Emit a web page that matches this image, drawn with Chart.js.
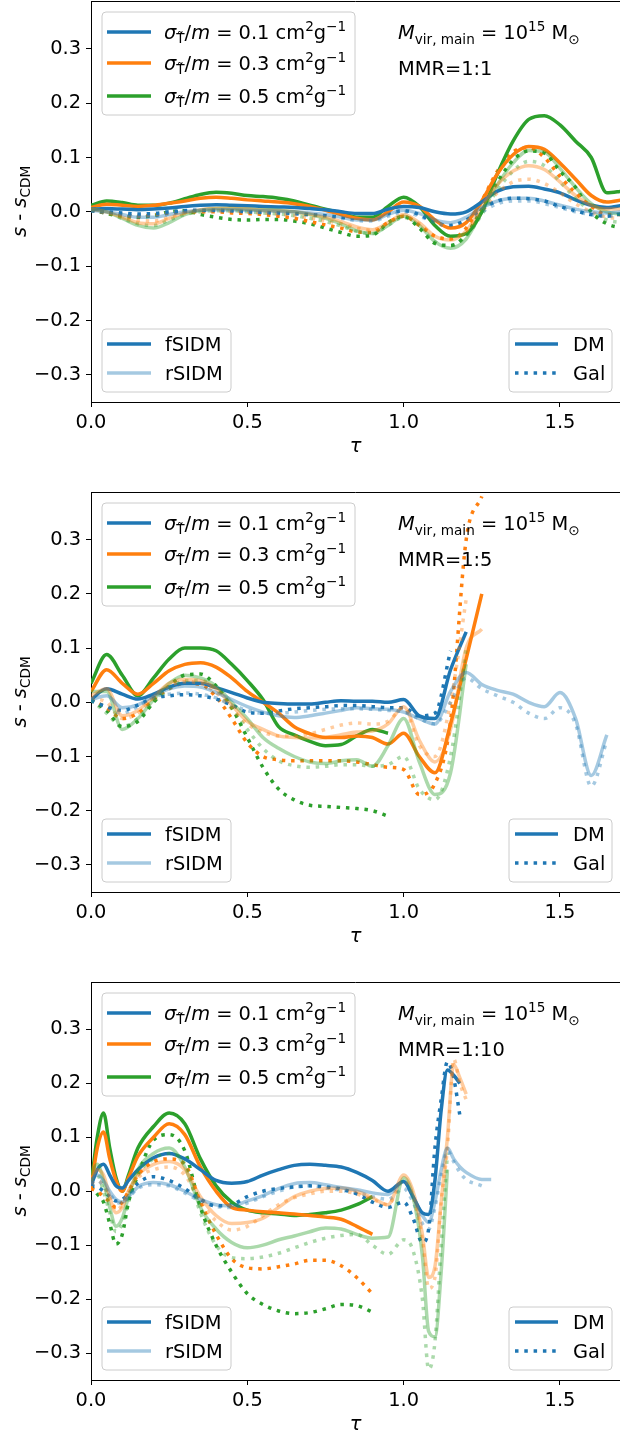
<!DOCTYPE html>
<html>
<head>
<meta charset="utf-8">
<script src="https://cdn.jsdelivr.net/npm/chart.js@4/dist/chart.umd.min.js"></script>
<style>
body{margin:0;background:#fff;width:620px;height:1439px;overflow:hidden;position:relative}
canvas{position:absolute;left:0}
</style>
</head>
<body>
<canvas id="c1" width="620" height="490" style="top:0"></canvas>
<canvas id="c2" width="620" height="490" style="top:490px"></canvas>
<canvas id="c3" width="620" height="459" style="top:980px"></canvas>
<script>
/* DATA */

const xTicks=[0,0.5,1.0,1.5];
const yTicks=[-0.3,-0.2,-0.1,0,0.1,0.2,0.3];
const crossLabels=["0.1","0.3","0.5"];
const mmrLabels=["1:1","1:5","1:10"];

// panel 1 (MMR 1:1)
const tau1=[0,0.05,0.1,0.15,0.2,0.25,0.3,0.35,0.4,0.45,0.5,0.55,0.6,0.65,0.7,0.75,0.8,0.85,0.9,0.95,1.0,1.05,1.1,1.15,1.2,1.25,1.3,1.35,1.4,1.45,1.5,1.55,1.6,1.65,1.7];
const p1_fDM_01=[0.005,0.006,0.005,0.004,0.005,0.007,0.01,0.012,0.013,0.012,0.011,0.01,0.009,0.008,0.006,0.004,0.0,-0.003,-0.003,0.005,0.01,0.008,0.0,-0.004,0.0,0.018,0.038,0.046,0.047,0.042,0.035,0.022,0.012,0.008,0.012];
const p1_fDM_03=[0.008,0.014,0.012,0.01,0.012,0.016,0.02,0.025,0.027,0.025,0.022,0.02,0.018,0.015,0.01,0.003,-0.005,-0.012,-0.015,0.0,0.018,0.01,-0.015,-0.03,-0.02,0.02,0.07,0.105,0.12,0.115,0.09,0.06,0.03,0.018,0.022];
const p1_fDM_05=[0.012,0.02,0.017,0.012,0.012,0.016,0.024,0.032,0.036,0.034,0.03,0.028,0.025,0.02,0.012,0.005,-0.002,-0.01,-0.01,0.01,0.027,0.01,-0.025,-0.045,-0.04,0.0,0.07,0.13,0.17,0.177,0.16,0.13,0.1,0.035,0.038];
const p1_fGal_01=[0.002,0.0,-0.002,-0.004,-0.003,0.0,0.002,0.003,0.003,0.002,0.0,-0.001,-0.002,-0.003,-0.005,-0.007,-0.01,-0.012,-0.012,-0.003,0.002,-0.005,-0.02,-0.025,-0.015,0.005,0.02,0.025,0.024,0.02,0.01,0.002,-0.005,-0.008,-0.003];
const p1_fGal_03=[0.003,-0.002,-0.005,-0.008,-0.006,-0.002,0.0,0.0,0.0,-0.002,-0.003,-0.005,-0.008,-0.012,-0.018,-0.024,-0.03,-0.037,-0.038,-0.02,-0.008,-0.025,-0.045,-0.05,-0.03,0.02,0.075,0.11,0.118,0.1,0.065,0.035,0.01,-0.005,-0.005];
const p1_fGal_05=[0.005,-0.003,-0.008,-0.01,-0.007,0.0,0.002,-0.005,-0.01,-0.014,-0.015,-0.014,-0.014,-0.017,-0.022,-0.03,-0.038,-0.045,-0.043,-0.02,-0.008,-0.03,-0.058,-0.062,-0.042,0.005,0.055,0.095,0.112,0.108,0.075,0.045,0.0,-0.022,-0.03];
const p1_rDM_01=[0.003,0.0,-0.005,-0.01,-0.01,-0.005,0.0,0.003,0.004,0.004,0.003,0.002,0.001,0.0,-0.002,-0.005,-0.01,-0.015,-0.015,-0.005,0.003,-0.003,-0.015,-0.02,-0.01,0.008,0.02,0.025,0.025,0.02,0.012,0.005,0.0,-0.002,0.0];
const p1_rDM_03=[0.005,0.0,-0.01,-0.02,-0.022,-0.012,-0.002,0.004,0.006,0.006,0.005,0.003,0.002,0.0,-0.004,-0.01,-0.018,-0.028,-0.033,-0.02,-0.005,-0.02,-0.045,-0.052,-0.035,0.01,0.05,0.075,0.085,0.078,0.055,0.03,0.012,0.005,0.005];
const p1_rDM_05=[0.005,0.0,-0.012,-0.025,-0.03,-0.02,-0.005,0.003,0.006,0.006,0.005,0.004,0.003,0.0,-0.005,-0.012,-0.022,-0.035,-0.04,-0.025,-0.008,-0.025,-0.055,-0.067,-0.05,0.0,0.05,0.09,0.113,0.11,0.08,0.045,0.015,0.0,-0.005];
const p1_rGal_01=[0.002,-0.002,-0.005,-0.008,-0.008,-0.004,0.0,0.002,0.002,0.001,0.0,-0.002,-0.003,-0.004,-0.006,-0.008,-0.012,-0.016,-0.017,-0.008,0.0,-0.008,-0.02,-0.025,-0.015,0.0,0.015,0.02,0.02,0.015,0.008,0.0,-0.005,-0.008,-0.005];
const p1_rGal_03=[0.003,-0.002,-0.008,-0.015,-0.017,-0.01,-0.003,0.0,0.002,0.001,0.0,-0.002,-0.004,-0.007,-0.011,-0.016,-0.022,-0.03,-0.034,-0.02,-0.008,-0.022,-0.045,-0.05,-0.035,0.0,0.035,0.055,0.06,0.052,0.035,0.015,0.0,-0.01,-0.012];
const p1_rGal_05=[0.003,-0.003,-0.012,-0.022,-0.025,-0.015,-0.005,0.0,0.002,0.002,0.0,-0.002,-0.004,-0.007,-0.012,-0.018,-0.026,-0.036,-0.04,-0.025,-0.01,-0.028,-0.055,-0.062,-0.045,-0.005,0.04,0.075,0.093,0.085,0.055,0.025,0.0,-0.015,-0.02];

// panel 2 (MMR 1:5)
const tau2=[0,0.05,0.1,0.15,0.2,0.25,0.3,0.35,0.4,0.45,0.5,0.55,0.6,0.65,0.7,0.75,0.8,0.85,0.9,0.95,1.0,1.05,1.1,1.15,1.2,1.25,1.3,1.35,1.4,1.45,1.5,1.55,1.6,1.65];
const p2_fDM_01=[0.005,0.025,0.015,0.006,0.015,0.028,0.035,0.035,0.027,0.018,0.008,0.0,-0.002,-0.003,-0.003,0.0,0.003,0.002,0.002,0.0,0.005,-0.025,-0.03,0.06,0.13];
const p2_fDM_03=[0.02,0.06,0.035,0.015,0.035,0.058,0.07,0.073,0.065,0.045,0.02,0.0,-0.02,-0.045,-0.058,-0.065,-0.065,-0.062,-0.065,-0.077,-0.057,-0.1,-0.13,-0.04,0.08,0.2];
const p2_fDM_05=[0.035,0.088,0.05,0.012,0.045,0.08,0.1,0.1,0.095,0.07,0.04,0.005,-0.045,-0.06,-0.072,-0.08,-0.078,-0.062,-0.05,-0.057];
const p2_fGal_01=[0.003,-0.008,-0.015,-0.005,0.008,0.012,0.014,0.012,0.006,-0.005,-0.018,-0.02,-0.016,-0.012,-0.01,-0.008,-0.006,-0.006,-0.008,-0.01,-0.01,-0.025,-0.02,0.095];
const p2_fGal_03=[0.005,-0.01,-0.03,-0.02,0.005,0.025,0.035,0.033,0.01,-0.03,-0.075,-0.1,-0.106,-0.108,-0.108,-0.108,-0.108,-0.11,-0.115,-0.12,-0.124,-0.17,-0.15,-0.035,0.3,0.38];
const p2_fGal_05=[0.004,-0.015,-0.045,-0.035,0.0,0.03,0.05,0.052,0.03,-0.01,-0.065,-0.12,-0.16,-0.18,-0.19,-0.192,-0.194,-0.196,-0.2,-0.21];
const p2_rDM_01=[0.005,0.012,-0.01,-0.005,0.012,0.025,0.03,0.028,0.018,0.005,-0.008,-0.018,-0.025,-0.028,-0.025,-0.02,-0.015,-0.01,-0.012,-0.013,-0.018,-0.03,-0.04,0.02,0.055,0.033,0.022,0.015,0.0,-0.008,0.018,-0.03,-0.135,-0.06];
const p2_rDM_03=[0.012,0.025,-0.025,-0.015,0.01,0.035,0.042,0.04,0.025,-0.005,-0.035,-0.05,-0.062,-0.065,-0.066,-0.065,-0.06,-0.055,-0.053,-0.04,-0.008,-0.07,-0.11,-0.05,0.1,0.135];
const p2_rDM_05=[0.02,0.02,-0.05,-0.03,0.005,0.035,0.05,0.045,0.03,0.0,-0.03,-0.065,-0.085,-0.1,-0.11,-0.113,-0.108,-0.106,-0.118,-0.08,-0.03,-0.11,-0.17,-0.13,0.07];
const p2_rGal_01=[0.003,-0.01,-0.02,-0.008,0.01,0.015,0.017,0.015,0.008,-0.005,-0.015,-0.02,-0.02,-0.018,-0.015,-0.013,-0.012,-0.012,-0.013,-0.015,-0.018,-0.03,-0.04,0.0,0.045,0.025,0.012,0.0,-0.02,-0.03,-0.01,-0.04,-0.155,-0.07];
const p2_rGal_03=[0.008,0.0,-0.03,-0.02,0.008,0.03,0.038,0.035,0.018,-0.012,-0.04,-0.055,-0.062,-0.062,-0.058,-0.05,-0.042,-0.038,-0.04,-0.035,-0.01,-0.08,-0.1,0.0,0.19];
const p2_rGal_05=[0.005,-0.02,-0.045,-0.03,0.0,0.025,0.04,0.04,0.025,-0.01,-0.05,-0.085,-0.108,-0.117,-0.12,-0.118,-0.115,-0.115,-0.118,-0.115,-0.1,-0.16,-0.18,-0.1,0.1];

// panel 3 (MMR 1:10)
const tau3=[0,0.02,0.04,0.06,0.08,0.1,0.12,0.15,0.2,0.25,0.3,0.35,0.4,0.45,0.5,0.55,0.6,0.65,0.7,0.75,0.8,0.85,0.9,0.95,1.0,1.03,1.06,1.08,1.1,1.12,1.14,1.16,1.18,1.2,1.25,1.28];
const p3_fDM_01=[0.01,0.04,0.05,0.03,0.01,0.006,0.02,0.04,0.062,0.07,0.06,0.04,0.02,0.015,0.018,0.03,0.04,0.048,0.05,0.048,0.045,0.035,0.02,0.0,0.018,-0.01,-0.04,-0.043,0.02,0.15,0.225,0.215,0.2];
const p3_fDM_03=[0.005,0.08,0.11,0.06,0.02,0.0,0.025,0.065,0.1,0.125,0.105,0.045,0.0,-0.03,-0.035,-0.038,-0.04,-0.042,-0.045,-0.048,-0.052,-0.065,-0.08];
const p3_fDM_05=[0.01,0.1,0.145,0.08,0.025,0.0,0.03,0.08,0.12,0.145,0.125,0.06,0.01,-0.02,-0.035,-0.04,-0.042,-0.045,-0.043,-0.04,-0.035,-0.025,-0.01];
const p3_fGal_01=[0.01,0.008,0.0,-0.01,-0.018,-0.015,-0.005,0.015,0.027,0.02,0.005,-0.015,-0.027,-0.025,-0.01,0.0,0.005,0.008,0.01,0.008,0.004,-0.005,-0.02,-0.03,-0.02,-0.05,-0.095,-0.07,0.08,0.17,0.24,0.21,0.14];
const p3_fGal_03=[0.005,0.0,-0.01,-0.02,-0.03,-0.02,0.0,0.03,0.055,0.06,0.05,-0.02,-0.08,-0.125,-0.142,-0.144,-0.14,-0.135,-0.128,-0.128,-0.138,-0.16,-0.19];
const p3_fGal_05=[0.01,-0.005,-0.02,-0.06,-0.098,-0.08,-0.02,0.03,0.095,0.105,0.075,-0.03,-0.1,-0.15,-0.19,-0.21,-0.222,-0.227,-0.225,-0.218,-0.21,-0.212,-0.224];
const p3_rDM_01=[0.02,0.03,0.02,0.0,-0.015,-0.02,-0.01,0.008,0.016,0.012,0.0,-0.015,-0.025,-0.027,-0.018,-0.008,0.005,0.014,0.016,0.012,0.007,0.003,-0.003,-0.006,0.018,-0.01,-0.045,-0.058,-0.02,0.04,0.08,0.06,0.045,0.035,0.022,0.022];
const p3_rDM_03=[0.02,0.04,0.03,-0.01,-0.04,-0.03,0.0,0.03,0.05,0.055,0.04,-0.01,-0.045,-0.06,-0.058,-0.05,-0.03,-0.01,0.0,0.005,0.006,0.0,-0.012,-0.025,0.03,0.0,-0.08,-0.16,-0.14,-0.02,0.1,0.235,0.21,0.18];
const p3_rDM_05=[0.03,0.05,0.02,-0.03,-0.065,-0.05,-0.01,0.04,0.07,0.08,0.045,-0.03,-0.07,-0.095,-0.105,-0.1,-0.09,-0.083,-0.075,-0.068,-0.07,-0.08,-0.087,-0.085,0.025,-0.01,-0.12,-0.26,-0.27,-0.15,0.04];
const p3_rGal_01=[0.015,0.02,0.01,-0.005,-0.02,-0.022,-0.012,0.005,0.012,0.01,-0.003,-0.018,-0.028,-0.03,-0.022,-0.01,0.0,0.008,0.01,0.006,0.002,-0.003,-0.01,-0.015,0.005,-0.02,-0.06,-0.07,-0.03,0.03,0.075,0.055,0.035,0.022,0.01];
const p3_rGal_03=[0.015,0.02,0.01,-0.015,-0.035,-0.025,0.0,0.025,0.04,0.045,0.03,-0.02,-0.055,-0.072,-0.065,-0.045,-0.025,-0.012,-0.005,0.0,0.0,-0.005,-0.015,-0.025,0.02,-0.01,-0.09,-0.18,-0.16,-0.02,0.08,0.245,0.2,0.17];
const p3_rGal_05=[0.02,0.03,0.0,-0.04,-0.075,-0.06,-0.02,0.03,0.06,0.07,0.05,-0.04,-0.1,-0.123,-0.125,-0.122,-0.115,-0.105,-0.095,-0.087,-0.082,-0.08,-0.1,-0.117,-0.09,-0.11,-0.2,-0.33,-0.28,-0.1,0.07];

/* STYLE */

const BLUE="#1f77b4", ORANGE="#ff7f0e", GREEN="#2ca02c";
const COLS=[BLUE,ORANGE,GREEN];
const FONT='"DejaVu Sans"';
const FS=19.4, SS=13.6;
const LW=3.5, DOT=[3.5,5.8];

function rgba(hex,a){
const n=parseInt(hex.slice(1),16);
return "rgba("+(n>>16)+","+((n>>8)&255)+","+(n&255)+","+a+")";
}

function line(tau,vals,col,dotted,light){
return {
data:vals.map((v,i)=>({x:tau[i],y:v})),
borderColor:light?rgba(col,0.4):col,
borderWidth:LW,
borderDash:dotted?DOT:[],
borderCapStyle:"butt",
borderJoinStyle:"round",
pointRadius:0,
fill:false,
cubicInterpolationMode:"monotone",
order:light?0:1
};
}

function rich(ctx,parts,x,y,measureOnly){
let w=0;
for(const p of parts){
ctx.font=(p.it?"italic ":"")+(p.s||FS)+"px "+FONT;
if(!measureOnly) ctx.fillText(p.t,x+w,y+(p.dy||0));
w+=ctx.measureText(p.t).width;
}
return w;
}

function box(ctx,x,y,w,h){
const r=4;
ctx.beginPath();
ctx.moveTo(x+r,y);
ctx.arcTo(x+w,y,x+w,y+h,r);
ctx.arcTo(x+w,y+h,x,y+h,r);
ctx.arcTo(x,y+h,x,y,r);
ctx.arcTo(x,y,x+w,y,r);
ctx.closePath();
ctx.fillStyle="rgba(255,255,255,0.8)";
ctx.fill();
ctx.strokeStyle="#cccccc";
ctx.lineWidth=1;
ctx.stroke();
}

function sample(ctx,x1,x2,y,col,dotted){
ctx.save();
ctx.strokeStyle=col;
ctx.lineWidth=LW;
ctx.lineCap="butt";
ctx.setLineDash(dotted?DOT:[]);
ctx.beginPath();
ctx.moveTo(x1,y);
ctx.lineTo(x2,y);
ctx.stroke();
ctx.restore();
}

/* OVERLAY: spine, legends, labels */

const overlay={
id:"overlay",
afterDraw(chart,args,opts){
const ctx=chart.ctx, a=chart.chartArea;
ctx.save();
ctx.strokeStyle="#000";
ctx.lineWidth=1;
ctx.beginPath();
ctx.moveTo(a.left,a.top+0.5);
ctx.lineTo(a.right,a.top+0.5);
ctx.stroke();

ctx.fillStyle="#000";
ctx.textBaseline="alphabetic";

// cross-section legend
box(ctx,102,a.top+11,253,103);
[31,62,95].forEach((dy,i)=>{
sample(ctx,107,151,a.top+dy,COLS[i],false);
ctx.fillStyle="#000";
rich(ctx,[
{t:"σ",it:1},{t:"T\u0303",s:SS,dy:4},{t:"/"},{t:"m",it:1},
{t:" = "+crossLabels[i]+" cm"},{t:"2",s:SS,dy:-8},{t:"g"},{t:"\u22121",s:SS,dy:-8}
],164,a.top+dy+7);
});

// fSIDM / rSIDM
box(ctx,102,a.bottom-73,129,63);
sample(ctx,107,151,a.bottom-58,BLUE,false);
sample(ctx,107,151,a.bottom-29,rgba(BLUE,0.4),false);
ctx.fillStyle="#000";
ctx.font=FS+"px "+FONT;
ctx.fillText("fSIDM",165,a.bottom-58+7);
ctx.fillText("rSIDM",165,a.bottom-29+7);

// DM / Gal
box(ctx,509,a.bottom-73,103,63);
sample(ctx,515,558,a.bottom-58,BLUE,false);
sample(ctx,515,558,a.bottom-29,BLUE,true);
ctx.fillStyle="#000";
ctx.font=FS+"px "+FONT;
ctx.fillText("DM",573,a.bottom-58+7);
ctx.fillText("Gal",573,a.bottom-29+7);

// annotation
rich(ctx,[
{t:"M",it:1},{t:"vir, main",s:SS,dy:5},{t:" = 10"},{t:"15",s:SS,dy:-8},{t:" M"},{t:"\u2299",s:SS,dy:5}
],398,a.top+38);
ctx.font=FS+"px "+FONT;
ctx.fillText("MMR="+opts.mmr,398,a.top+74);

// y title
const yt=[{t:"s",it:1},{t:" - "},{t:"s",it:1},{t:"CDM",s:SS,dy:4}];
const w=rich(ctx,yt,0,0,true);
ctx.save();
ctx.translate(26,(a.top+a.bottom)/2);
ctx.rotate(-Math.PI/2);
rich(ctx,yt,-w/2,0);
ctx.restore();

// x title
ctx.font="italic "+FS+"px "+FONT;
ctx.textAlign="center";
ctx.fillText("τ",(a.left+a.right)/2,a.bottom+50);
ctx.restore();
}
};

function fmt(v){
if(Math.abs(v)<1e-9) return "0.0";
return v.toFixed(1).replace("-","\u2212");
}

function panel(id,H,top,bottom,tau,sets,mmr){
const datasets=sets.map(s=>line(tau,s[0],COLS[s[1]],s[2],s[3]));
new Chart(document.getElementById(id),{
type:"line",
data:{datasets},
plugins:[overlay],
options:{
responsive:false,
animation:false,
events:[],
layout:{padding:{top:top,left:0,right:0,bottom:0}},
plugins:{legend:{display:false},tooltip:{enabled:false},overlay:{mmr}},
scales:{
x:{
type:"linear",min:0,max:1.692,
afterBuildTicks:s=>{s.ticks=xTicks.map(v=>({value:v}));},
afterFit:s=>{s.height=H-bottom;s.paddingLeft=0;s.paddingRight=0;},
ticks:{callback:fmt,color:"#000",font:{family:"DejaVu Sans",size:FS},padding:4,maxRotation:0,autoSkip:false,includeBounds:false},
grid:{drawOnChartArea:false,drawTicks:true,tickLength:5,color:"#000"},
border:{color:"#000",width:1}
},
y:{
type:"linear",min:-0.35,max:0.388,
afterBuildTicks:s=>{s.ticks=yTicks.map(v=>({value:v}));},
afterFit:s=>{s.width=91;s.paddingTop=0;s.paddingBottom=0;},
ticks:{callback:fmt,color:"#000",font:{family:"DejaVu Sans",size:FS},padding:5,autoSkip:false,includeBounds:false},
grid:{drawOnChartArea:false,drawTicks:true,tickLength:5,color:"#000"},
border:{color:"#000",width:1}
}
}
}
});
}

// [values, colour index, dotted (Gal), light (rSIDM)]
panel("c1",490,1,402,tau1,[
[p1_fDM_01,0,false,false],[p1_fDM_03,1,false,false],[p1_fDM_05,2,false,false],
[p1_fGal_01,0,true,false],[p1_fGal_03,1,true,false],[p1_fGal_05,2,true,false],
[p1_rDM_01,0,false,true],[p1_rDM_03,1,false,true],[p1_rDM_05,2,false,true],
[p1_rGal_01,0,true,true],[p1_rGal_03,1,true,true],[p1_rGal_05,2,true,true]
],mmrLabels[0]);

panel("c2",490,2,402,tau2,[
[p2_fDM_01,0,false,false],[p2_fDM_03,1,false,false],[p2_fDM_05,2,false,false],
[p2_fGal_01,0,true,false],[p2_fGal_03,1,true,false],[p2_fGal_05,2,true,false],
[p2_rDM_01,0,false,true],[p2_rDM_03,1,false,true],[p2_rDM_05,2,false,true],
[p2_rGal_01,0,true,true],[p2_rGal_03,1,true,true],[p2_rGal_05,2,true,true]
],mmrLabels[1]);

panel("c3",459,2,400,tau3,[
[p3_fDM_01,0,false,false],[p3_fDM_03,1,false,false],[p3_fDM_05,2,false,false],
[p3_fGal_01,0,true,false],[p3_fGal_03,1,true,false],[p3_fGal_05,2,true,false],
[p3_rDM_01,0,false,true],[p3_rDM_03,1,false,true],[p3_rDM_05,2,false,true],
[p3_rGal_01,0,true,true],[p3_rGal_03,1,true,true],[p3_rGal_05,2,true,true]
],mmrLabels[2]);
</script>
</body>
</html>
